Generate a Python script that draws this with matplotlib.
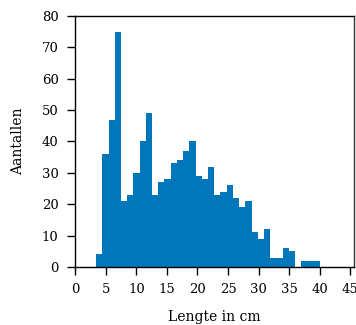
import numpy as np
import matplotlib
matplotlib.use("Agg")
import matplotlib.pyplot as plt

# Data
bin_start = 3.4
bin_end = 40.05
counts = [4, 36, 47, 75, 21, 23, 30, 40, 49, 23, 27, 28, 33, 34, 37, 40,
          29, 28, 32, 23, 24, 26, 22, 19, 21, 11, 9, 12, 3, 3, 6, 5, 0, 2, 2, 2]
xticks = [0, 5, 10, 15, 20, 25, 30, 35, 40, 45]
yticks = [0, 10, 20, 30, 40, 50, 60, 70, 80]

edges = np.linspace(bin_start, bin_end, len(counts) + 1)

plt.rcParams['font.family'] = ['DejaVu Serif']
fig = plt.figure(figsize=(3.56, 3.25), dpi=100)
ax = fig.add_axes([0.2115, 0.1785, 0.994 - 0.2115, 0.9508 - 0.1785])

ax.bar(edges[:-1], counts, width=np.diff(edges), align='edge',
       color='#0077bb', edgecolor='none', linewidth=0)

ax.set_xlim(0, 45.6)
ax.set_ylim(0, 80)
ax.set_xticks(xticks)
ax.set_yticks(yticks)
ax.tick_params(direction='out', length=5.5, width=1, labelsize=9.5)
ax.tick_params(axis='x', pad=6)
ax.tick_params(axis='y', pad=6.5)

for s in ax.spines.values():
    s.set_linewidth(1)
    s.set_color('black')
ax.spines['right'].set_color('#333333')

ax.set_xlabel('Lengte in cm', fontsize=10, labelpad=10)
ax.set_ylabel('Aantallen', fontsize=10, labelpad=12)

fig.savefig('out.png', dpi=100)
